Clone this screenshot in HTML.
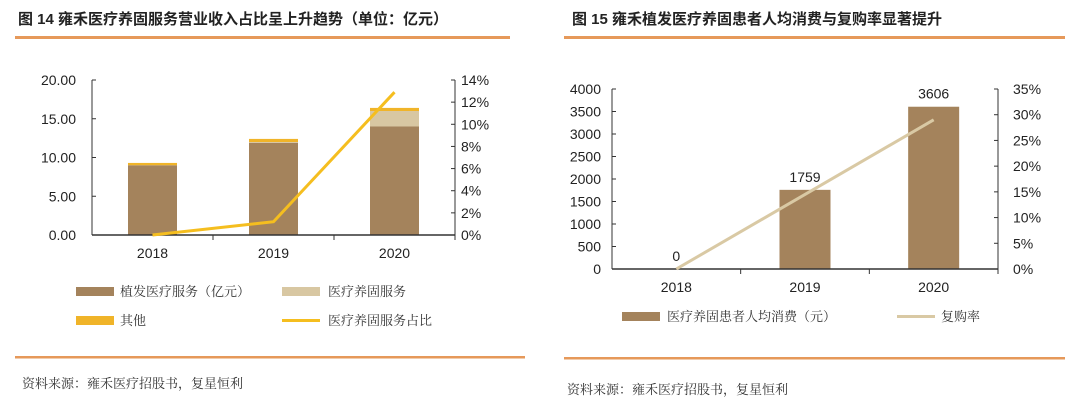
<!DOCTYPE html>
<html><head><meta charset="utf-8"><style>
body{margin:0;background:#fff;width:1080px;height:412px;overflow:hidden}
svg{display:block}
text{font-family:"Liberation Sans","Noto Sans CJK SC",sans-serif;fill:#222}
.cn{font-family:"Noto Serif CJK SC","Noto Sans CJK SC",serif;fill:#333}
</style></head><body>
<svg id="s" width="1080" height="412">
<text x="18" y="24" font-size="15" font-weight="bold">图 14  雍禾医疗养固服务营业收入占比呈上升趋势（单位：亿元）</text>
<rect x="15" y="36" width="495" height="3" fill="#e6995a"/>
<text x="572" y="24" font-size="15" font-weight="bold">图 15 雍禾植发医疗养固患者人均消费与复购率显著提升</text>
<rect x="564" y="36" width="501" height="3" fill="#e6995a"/>
<rect x="15" y="356" width="510" height="2.5" fill="#e6995a"/>
<rect x="564" y="357" width="501" height="2.5" fill="#e6995a"/>
<text class="cn" x="22" y="388" font-size="13">资料来源：雍禾医疗招股书，复星恒利</text>
<text class="cn" x="567" y="394" font-size="13">资料来源：雍禾医疗招股书，复星恒利</text>
<g id="L"></g><g id="R"></g>
<!-- left legend -->
<rect x="76" y="287" width="38" height="9" fill="#a4835c"/>
<text class="cn" x="120" y="296" font-size="13">植发医疗服务（亿元）</text>
<rect x="282" y="287" width="38" height="9" fill="#d8c7a2"/>
<text class="cn" x="328" y="296" font-size="13">医疗养固服务</text>
<rect x="76" y="316" width="38" height="9" fill="#f0b429"/>
<text class="cn" x="120" y="325" font-size="13">其他</text>
<rect x="282" y="319" width="38" height="3" fill="#f5be1f"/>
<text class="cn" x="328" y="325" font-size="13">医疗养固服务占比</text>
<!-- right legend -->
<rect x="622" y="312" width="38" height="9" fill="#a4835c"/>
<text class="cn" x="667" y="321" font-size="13">医疗养固患者人均消费（元）</text>
<rect x="897" y="315" width="38" height="3" fill="#d9c9a4"/>
<text class="cn" x="941" y="321" font-size="13">复购率</text>
</svg>
<script>
const categories=["2018","2019","2020"];
const hairRevenue=[9.0,11.9,14.0];
const careRevenue=[0,0.1,2.0];
const otherRevenue=[0.3,0.4,0.4];
const careShare=[0,1.2,12.9];
const leftTicks=["0.00","5.00","10.00","15.00","20.00"];
const leftPctTicks=["0%","2%","4%","6%","8%","10%","12%","14%"];
const spend=[0,1759,3606];
const repurchase=[0,14.5,29];
const rightTicks=["0","500","1000","1500","2000","2500","3000","3500","4000"];
const rightPctTicks=["0%","5%","10%","15%","20%","25%","30%","35%"];
const NS="http://www.w3.org/2000/svg";
function mk(p,t,a,txt){const e=document.createElementNS(NS,t);for(const k in a)e.setAttribute(k,a[k]);if(txt!==undefined)e.textContent=txt;p.appendChild(e);return e;}
// Left chart
(function(){
const g=document.getElementById('L');
const x0=92,x1=455,y0=235,y1=80,max=20,pmax=14;
const cw=(x1-x0)/categories.length,bw=49;
const y=v=>y0-(v/max)*(y0-y1), yp=v=>y0-(v/pmax)*(y0-y1), xc=i=>x0+cw*(i+0.5);
leftTicks.forEach((t,i)=>{const yy=y(+t);
 let e=mk(g,'text',{x:76,y:yy+5,'font-size':14,'text-anchor':'end'},t);
 
 
 e=mk(g,'line',{x1:x0,x2:x0+4,y1:yy,y2:yy,stroke:'#333'});
 
 });
leftPctTicks.forEach((t,i)=>{const yy=yp(parseFloat(t));
 let e=mk(g,'text',{x:461,y:yy+5,'font-size':14},t);
 
 
 e=mk(g,'line',{x1:x1-4,x2:x1,y1:yy,y2:yy,stroke:'#333'});
 
 });
categories.forEach((c,i)=>{const cx=xc(i);
 let b=y(hairRevenue[i]);
 let e=mk(g,'rect',{x:cx-bw/2,y:b,width:bw,height:y0-b,fill:'#a4835c'});
 
 
 const c2=y(hairRevenue[i]+careRevenue[i]);
 e=mk(g,'rect',{x:cx-bw/2,y:c2,width:bw,height:b-c2,fill:'#d8c7a2'});
 
 
 const c3=y(hairRevenue[i]+careRevenue[i]+otherRevenue[i]);
 e=mk(g,'rect',{x:cx-bw/2,y:c3,width:bw,height:c2-c3,fill:'#f0b429'});
 
 
 e=mk(g,'text',{x:cx,y:258,'font-size':14,'text-anchor':'middle'},c);
 
 
 e=mk(g,'line',{x1:x0+cw*(i+1),x2:x0+cw*(i+1),y1:y0,y2:y0+5,stroke:'#333'});
 
 });
let e=mk(g,'line',{x1:x0,x2:x0,y1:y1,y2:y0,stroke:'#333'});


e=mk(g,'line',{x1:x1,x2:x1,y1:y1,y2:y0,stroke:'#333'});


e=mk(g,'line',{x1:x0,x2:x1,y1:y0,y2:y0,stroke:'#333','stroke-width':1.5});


e=mk(g,'polyline',{points:careShare.map((v,i)=>xc(i)+','+yp(v)).join(' '),fill:'none',stroke:'#f5be1f','stroke-width':3});


})();
// Right chart
(function(){
const g=document.getElementById('R');
const x0=612,x1=998,y0=269,y1=89,max=4000,pmax=35;
const cw=(x1-x0)/categories.length,bw=51;
const y=v=>y0-(v/max)*(y0-y1), yp=v=>y0-(v/pmax)*(y0-y1), xc=i=>x0+cw*(i+0.5);
rightTicks.forEach(t=>{const yy=y(+t);
 let e=mk(g,'text',{x:601,y:yy+5,'font-size':14,'text-anchor':'end'},t);
 
 
 e=mk(g,'line',{x1:x0,x2:x0+4,y1:yy,y2:yy,stroke:'#333'});
 
 });
rightPctTicks.forEach(t=>{const yy=yp(parseFloat(t));
 let e=mk(g,'text',{x:1013,y:yy+5,'font-size':14},t);
 
 
 e=mk(g,'line',{x1:x1-4,x2:x1,y1:yy,y2:yy,stroke:'#333'});
 
 });
categories.forEach((c,i)=>{const cx=xc(i),b=y(spend[i]);
 let e=mk(g,'rect',{x:cx-bw/2,y:b,width:bw,height:y0-b,fill:'#a4835c'});
 
 
 e=mk(g,'text',{x:cx,y:b-8,'font-size':14,'text-anchor':'middle'},String(spend[i]));
 
 
 e=mk(g,'text',{x:cx,y:292,'font-size':14,'text-anchor':'middle'},c);
 
 
 e=mk(g,'line',{x1:x0+cw*(i+1),x2:x0+cw*(i+1),y1:y0,y2:y0+5,stroke:'#333'});
 
 });
let e=mk(g,'line',{x1:x0,x2:x0,y1:y1,y2:y0,stroke:'#333'});


e=mk(g,'line',{x1:x1,x2:x1,y1:y1,y2:y0,stroke:'#333'});


e=mk(g,'line',{x1:x0,x2:x1,y1:y0,y2:y0,stroke:'#333','stroke-width':1.5});


e=mk(g,'polyline',{points:repurchase.map((v,i)=>xc(i)+','+yp(v)).join(' '),fill:'none',stroke:'#d9c9a4','stroke-width':3});


})();
</script>
</body></html>
